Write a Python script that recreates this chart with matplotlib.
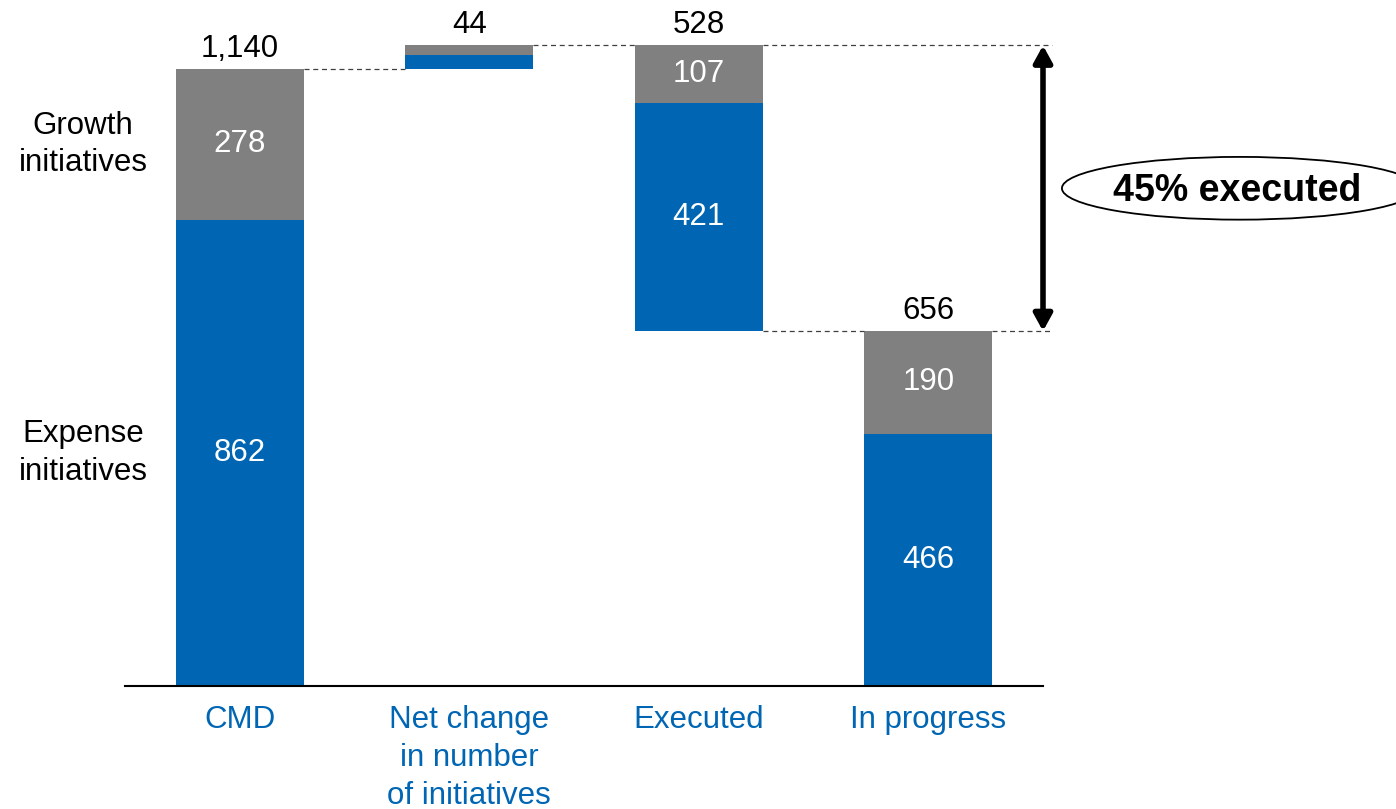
import matplotlib.pyplot as plt
from matplotlib.patches import Ellipse

plt.rcParams['font.family'] = ['Liberation Sans', 'DejaVu Sans']

# Datos del puente de iniciativas
categorias = ['CMD', 'Net change\nin number\nof initiatives', 'Executed', 'In progress']
expense = [862, 26, 421, 466]   # parte azul
growth = [278, 18, 107, 190]    # parte gris
totales = ['1,140', '44', '528', '656']
tipo = ['total', 'up', 'down', 'total']
etiquetas_internas = [True, False, True, True]
nota = '45% executed'

azul = '#0066B3'
gris = '#808080'
fs = 22.5

fig = plt.figure(figsize=(13.96, 8.09), dpi=100)
ax = fig.add_axes([125 / 1396, 123 / 809, 918 / 1396, 686 / 809])
ax.set_xlim(-0.5, 3.5)
ax.set_ylim(0, 686 / 0.541)

ancho = 0.558
x = list(range(len(categorias)))

# Bases de cada barra (cascada)
bases = []
nivel = 0
for i in range(len(categorias)):
    t = expense[i] + growth[i]
    if tipo[i] == 'total':
        bases.append(0)
        nivel = t
    elif tipo[i] == 'up':
        bases.append(nivel)
        nivel += t
    else:
        nivel -= t
        bases.append(nivel)

ax.bar(x, expense, ancho, bottom=bases, color=azul)
ax.bar(x, growth, ancho, bottom=[b + e for b, e in zip(bases, expense)], color=gris)

for i in x:
    tope = bases[i] + expense[i] + growth[i]
    ax.annotate(totales[i], (i, tope), xytext=(0, 9), textcoords='offset points',
                ha='center', va='baseline', fontsize=fs, color='black')
    if etiquetas_internas[i]:
        ax.text(i, bases[i] + expense[i] / 2, str(expense[i]), ha='center', va='center',
                fontsize=fs, color='white')
        ax.text(i, bases[i] + expense[i] + growth[i] / 2, str(growth[i]), ha='center',
                va='center', fontsize=fs, color='white')

# Lineas punteadas de conexion
tops = [bases[i] + expense[i] + growth[i] for i in x]
conexiones = [
    (0 + ancho / 2, 1 - ancho / 2, tops[0]),
    (1 + ancho / 2, 2 - ancho / 2, tops[1]),
    (2 + ancho / 2, 3 - ancho / 2, bases[2]),
    (2 + ancho / 2, 3.54, tops[2]),
    (3 + ancho / 2, 3.54, tops[3]),
]
for x0, x1, y in conexiones:
    ax.plot([x0, x1], [y, y], ls=(0, (4, 3)), color='#404040', lw=0.9, clip_on=False)

# Flecha doble
ax.annotate('', xy=(3.5, tops[2]), xytext=(3.5, tops[3]),
            arrowprops=dict(arrowstyle='<|-|>,head_length=1.0,head_width=0.55',
                            color='black', lw=4, shrinkA=0, shrinkB=0),
            annotation_clip=False)

# Elipse con el porcentaje
ell = Ellipse((4.358, 920), 1.551, 116, facecolor='white', edgecolor='black', lw=1.3,
              clip_on=False)
ax.add_patch(ell)
ax.text(4.345, 915, nota, ha='center', va='center', fontsize=27, fontweight='bold',
        clip_on=False)

# Etiquetas laterales
ax.text(-0.683, bases[0] + expense[0] + growth[0] / 2, 'Growth\ninitiatives', ha='center',
        va='center', fontsize=fs, linespacing=1.33)
ax.text(-0.683, expense[0] / 2, 'Expense\ninitiatives', ha='center', va='center',
        fontsize=fs, linespacing=1.33)

ax.set_xticks(x)
ax.set_xticklabels(categorias, fontsize=fs, color=azul, linespacing=1.34)
ax.tick_params(axis='x', length=0, pad=14)
ax.set_yticks([])
for s in ['top', 'left', 'right']:
    ax.spines[s].set_visible(False)
ax.spines['bottom'].set_linewidth(1.5)

fig.savefig('out.png', dpi=100)
